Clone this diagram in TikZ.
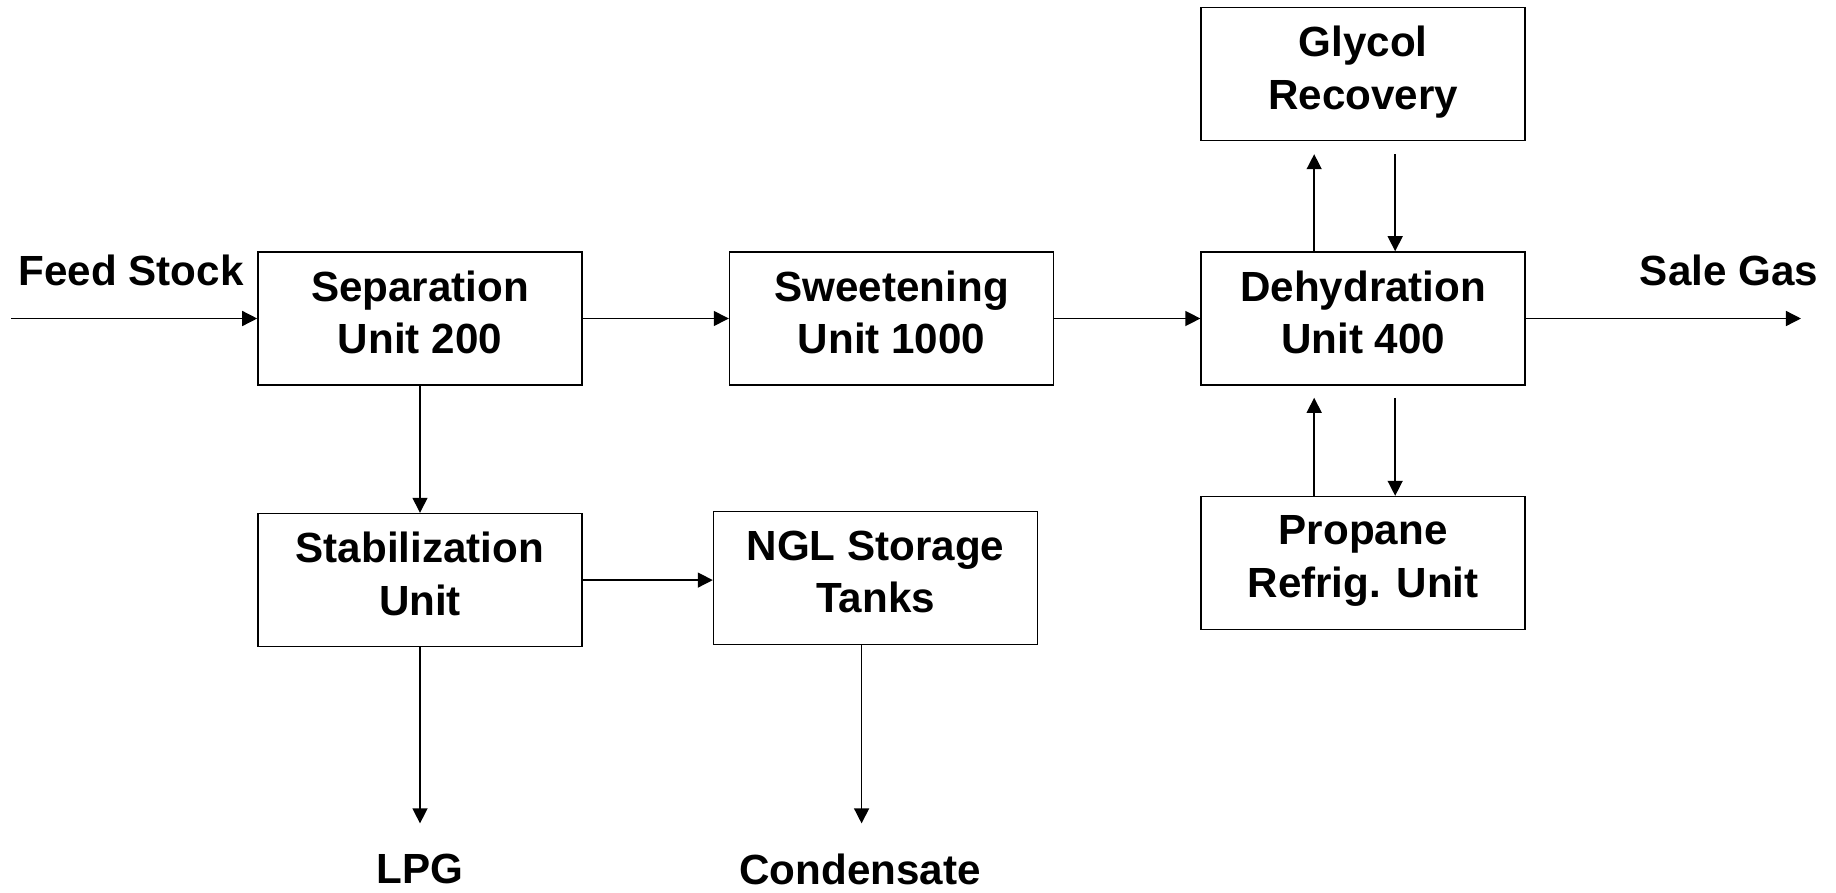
\documentclass[tikz,border=0pt]{standalone}
\usepackage{fontspec}
\setmainfont{Liberation Sans}
\usepackage{tikz}
\usetikzlibrary{arrows.meta,positioning,calc}

\begin{document}
\begin{tikzpicture}[
    font=\fontsize{24}{30}\selectfont\bfseries,
    unit/.style={rectangle, draw, line width=0.9pt, minimum width=6.48cm,
        minimum height=2.66cm, align=center, inner sep=0pt, text depth=0.25cm},
    stream/.style={inner sep=0pt},
    flow/.style={line width=0.8pt, -{Triangle[length=0.3cm, width=0.3cm]}}
]
    \useasboundingbox (0,0) rectangle (36.72,-17.84);

    % units
    \node[unit] (sep) at (8.4,-6.37) {Separation\\Unit 200};
    \node[unit, right=2.92cm of sep] (sweet) {Sweetening\\Unit 1000};
    \node[unit, right=2.92cm of sweet] (dehy) {Dehydration\\Unit 400};
    \node[unit, above=2.2cm of dehy] (glycol) {Glycol\\Recovery};
    \node[unit, below=2.2cm of dehy] (propane) {Propane\\Refrig. Unit};
    \node[unit, below=2.54cm of sep] (stab) {Stabilization\\Unit};
    \node[unit, right=2.6cm of stab, yshift=0.04cm] (ngl) {NGL Storage\\Tanks};

    % streams in and out
    \node[stream] (feed) at (2.62,-5.41) {Feed Stock};
    \node[stream] (sale) at (34.58,-5.41) {Sale Gas};
    \node[stream] (lpg) at (8.4,-17.38) {LPG};
    \node[stream] (cond) at (17.2,-17.38) {Condensate};

    \coordinate (feedin) at ([xshift=-4.92cm]sep.west);
    \coordinate (saleout) at ([xshift=5.5cm]dehy.east);
    \coordinate (lpgout) at ([yshift=-3.52cm]stab.south);
    \coordinate (condout) at ([xshift=-0.28cm, yshift=-3.56cm]ngl.south);
    \coordinate (gUp) at ([xshift=-0.98cm, yshift=-0.26cm]glycol.south);
    \coordinate (gDown) at ([xshift=0.64cm, yshift=-0.26cm]glycol.south);
    \coordinate (pUp) at ([xshift=-0.98cm, yshift=-0.24cm]dehy.south);
    \coordinate (pDown) at ([xshift=0.64cm, yshift=-0.24cm]dehy.south);

    % main line
    \draw[flow] (feedin) -- (sep.west);
    \draw[flow] (sep.east) -- (sweet.west);
    \draw[flow] (sweet.east) -- (dehy.west);
    \draw[flow] (dehy.east) -- (saleout);

    % liquids
    \draw[flow] (sep.south) -- (stab.north);
    \draw[flow] (stab.east) -- (stab.east -| ngl.west);
    \draw[flow] (stab.south) -- (lpgout);
    \draw[flow] (ngl.south -| condout) -- (condout);

    % glycol and refrigeration loops
    \draw[flow] (dehy.north -| gUp) -- (gUp);
    \draw[flow] (gDown) -- (gDown |- dehy.north);
    \draw[flow] (pUp |- propane.north) -- (pUp);
    \draw[flow] (pDown) -- (pDown |- propane.north);
\end{tikzpicture}
\end{document}
